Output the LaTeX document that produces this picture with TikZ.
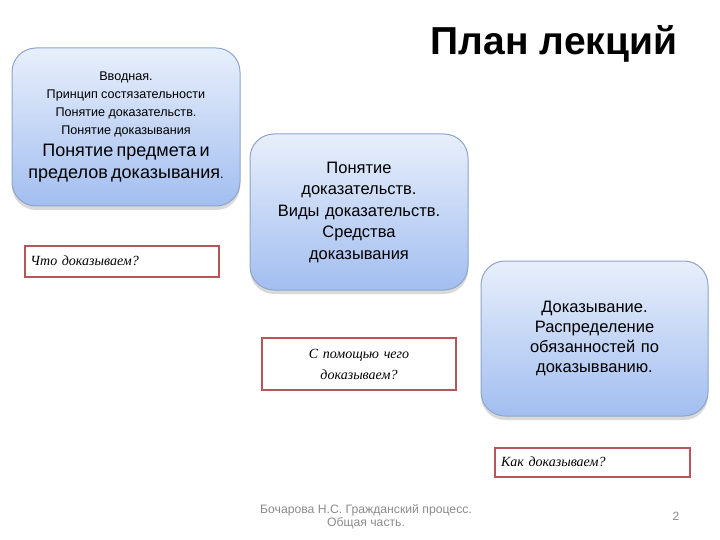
\documentclass[tikz,border=0pt]{standalone}
\usepackage{fontspec}
\setmainfont{Liberation Sans}
\newfontfamily\titlefont{Liberation Sans}
\newfontfamily\handfont{Liberation Serif}
\usepackage{tikz}
\tikzset{>=latex}
\usetikzlibrary{positioning,shadows}

\definecolor{boxtop}{HTML}{E8EFFB}
\definecolor{boxbot}{HTML}{A2BEF0}
\definecolor{boxline}{HTML}{8EA5C9}
\definecolor{qline}{HTML}{B55658}
\definecolor{footgray}{HTML}{8A8A8A}

\tikzset{
 topic/.style={rounded corners=24pt, draw=boxline, line width=1pt,
  top color=boxtop, bottom color=boxbot, align=center,
  drop shadow={opacity=0.3, shadow xshift=0pt, shadow yshift=-4pt}},
 question/.style={draw=qline, line width=2pt, fill=white,
  font=\handfont\itshape\fontsize{14}{21}\selectfont}
}

\begin{document}
\begin{tikzpicture}[x=1pt,y=-1pt]
 \useasboundingbox (0,0) rectangle (720,540);

 % Title
 \node[font=\titlefont\bfseries\fontsize{39}{44}\selectfont] (Title) at (554,44) {План лекций};

 % STATE Intro
 \node[topic,
  minimum width=228pt,	% box size
  minimum height=158pt,
  text width=220pt] (Intro) at (126,127)
 {%
  {\fontsize{12.6}{17.8}\selectfont Вводная.\\
  Принцип состязательности\\
  Понятие доказательств.\\
  Понятие доказывания\par}
  {\fontsize{18}{22}\selectfont Понятие предмета и\\
  пределов доказывания{\fontsize{12.6}{17}\selectfont.}\par}
 };

 % STATE Evidence
 \node[topic,
  minimum width=218pt,
  minimum height=156pt,
  text width=210pt,
  font=\fontsize{16.5}{21.5}\selectfont] (Evidence) at (359,212)
 {%
  Понятие\\
  доказательств.\\
  Виды доказательств.\\
  Средства\\
  доказывания
 };

 % STATE Proving
 \node[topic,
  minimum width=227pt,
  minimum height=155pt,
  text width=215pt,
  font=\fontsize{16.5}{20}\selectfont] (Proving) at (594.5,338.5)
 {%
  Доказывание.\\
  Распределение\\
  обязанностей по\\
  доказывванию.
 };

 % questions under the boxes
 \node[question,
  below=38pt of Intro.south west,
  anchor=north west,
  xshift=12pt,
  minimum width=194pt,
  minimum height=31pt,
  text width=182pt,
  align=left] (WhatQ) {Что доказываем?};

 \node[question,
  minimum width=194pt,
  minimum height=52pt,
  text width=182pt,
  align=center] (HowQ) at (359,364) {С помощью чего\\ доказываем?};

 \node[question,
  below=30pt of Proving.south,
  anchor=north,
  xshift=-2pt,
  minimum width=195pt,
  minimum height=29pt,
  text width=183pt,
  align=left] (WayQ) {Как доказываем?};

 % footer
 \node[text=footgray, align=center,
  font=\fontsize{12.2}{13}\selectfont] (Footer) at (366,517)
  {Бочарова Н.С. Гражданский процесс.\\ Общая часть.};
 \node[text=footgray, font=\fontsize{12}{13}\selectfont] (Page) at (676,516) {2};

\end{tikzpicture}
\end{document}
